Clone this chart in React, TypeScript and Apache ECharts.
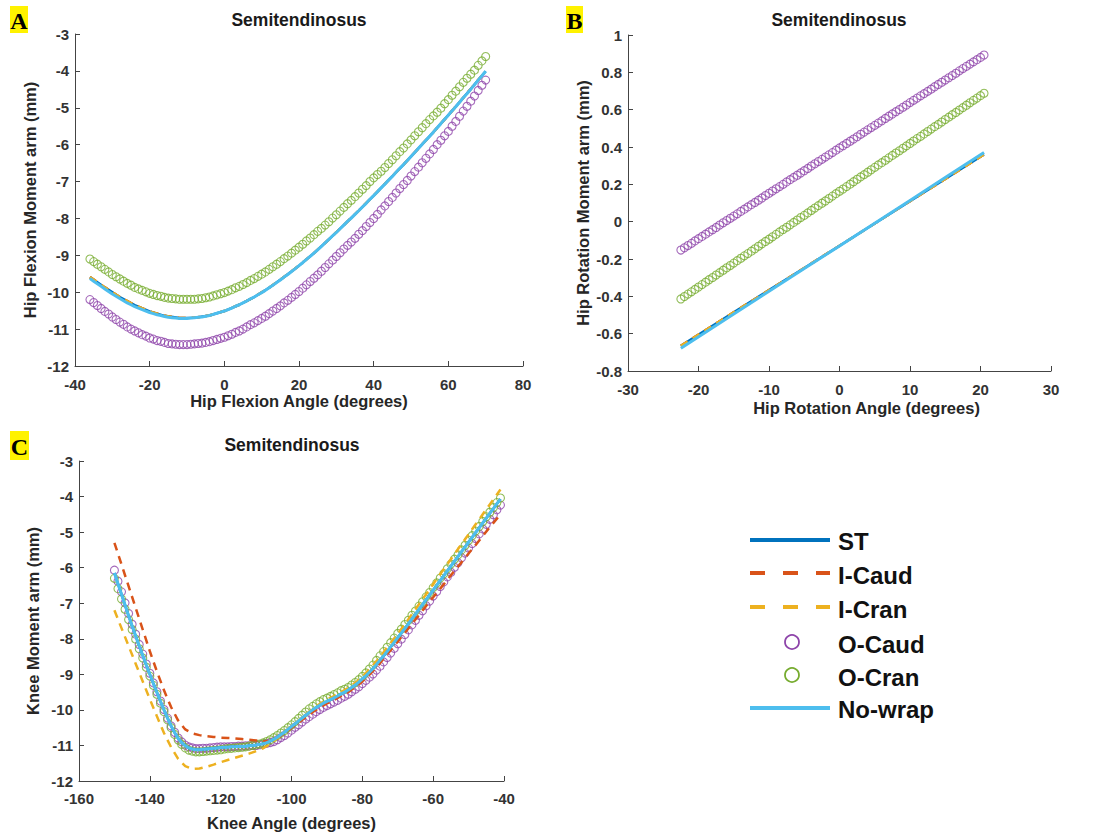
import React, { useEffect, useRef } from "react";
import * as echarts from "echarts";

// ---------- Panel A: hip flexion ----------
const hipFlexAngle = [
  -36, -35, -34, -33, -32, -31, -30, -29, -28, -27,
  -26, -25, -24, -23, -22, -21, -20, -19, -18, -17,
  -16, -15, -14, -13, -12, -11, -10, -9, -8, -7,
  -6, -5, -4, -3, -2, -1, 0, 1, 2, 3,
  4, 5, 6, 7, 8, 9, 10, 11, 12, 13,
  14, 15, 16, 17, 18, 19, 20, 21, 22, 23,
  24, 25, 26, 27, 28, 29, 30, 31, 32, 33,
  34, 35, 36, 37, 38, 39, 40, 41, 42, 43,
  44, 45, 46, 47, 48, 49, 50, 51, 52, 53,
  54, 55, 56, 57, 58, 59, 60, 61, 62, 63,
  64, 65, 66, 67, 68, 69, 70,
];
const hipFlexNoWrap = [
  -9.63, -9.7, -9.77, -9.84, -9.91, -9.98, -10.05, -10.11, -10.17, -10.23,
  -10.29, -10.34, -10.39, -10.43, -10.47, -10.51, -10.55, -10.58, -10.61, -10.63,
  -10.66, -10.68, -10.69, -10.7, -10.71, -10.71, -10.71, -10.7, -10.69, -10.68,
  -10.67, -10.65, -10.63, -10.6, -10.57, -10.54, -10.51, -10.47, -10.43, -10.38,
  -10.34, -10.29, -10.24, -10.18, -10.13, -10.07, -10.01, -9.95, -9.88, -9.81,
  -9.74, -9.67, -9.59, -9.52, -9.44, -9.36, -9.28, -9.2, -9.11, -9.03,
  -8.94, -8.85, -8.76, -8.66, -8.57, -8.47, -8.38, -8.28, -8.18, -8.08,
  -7.99, -7.89, -7.79, -7.69, -7.59, -7.48, -7.38, -7.28, -7.17, -7.07,
  -6.96, -6.86, -6.75, -6.64, -6.54, -6.43, -6.32, -6.21, -6.1, -5.99,
  -5.88, -5.77, -5.66, -5.54, -5.43, -5.31, -5.2, -5.08, -4.97, -4.85,
  -4.73, -4.62, -4.5, -4.38, -4.25, -4.13, -4.01,
];
const hipFlexOCaud = [
  -10.2, -10.28, -10.36, -10.44, -10.52, -10.59, -10.67, -10.74, -10.81, -10.87,
  -10.94, -11.0, -11.05, -11.1, -11.15, -11.19, -11.24, -11.27, -11.31, -11.33,
  -11.36, -11.39, -11.4, -11.41, -11.42, -11.42, -11.42, -11.41, -11.4, -11.39,
  -11.38, -11.36, -11.34, -11.31, -11.28, -11.25, -11.22, -11.18, -11.14, -11.09,
  -11.05, -11.0, -10.94, -10.88, -10.83, -10.77, -10.71, -10.65, -10.58, -10.51,
  -10.44, -10.37, -10.29, -10.22, -10.14, -10.06, -9.98, -9.89, -9.8, -9.71,
  -9.62, -9.53, -9.43, -9.33, -9.23, -9.13, -9.03, -8.93, -8.83, -8.73,
  -8.64, -8.54, -8.43, -8.33, -8.22, -8.11, -8.0, -7.89, -7.77, -7.66,
  -7.54, -7.43, -7.31, -7.19, -7.08, -6.97, -6.85, -6.73, -6.61, -6.49,
  -6.37, -6.25, -6.13, -6.0, -5.88, -5.76, -5.64, -5.5, -5.37, -5.23,
  -5.09, -4.96, -4.82, -4.68, -4.53, -4.39, -4.25,
];
const hipFlexOCran = [
  -9.1, -9.17, -9.24, -9.31, -9.38, -9.45, -9.52, -9.58, -9.64, -9.7,
  -9.76, -9.81, -9.87, -9.91, -9.95, -9.99, -10.03, -10.06, -10.09, -10.11,
  -10.14, -10.16, -10.17, -10.18, -10.19, -10.19, -10.19, -10.19, -10.19, -10.18,
  -10.17, -10.15, -10.13, -10.1, -10.07, -10.04, -10.01, -9.97, -9.93, -9.88,
  -9.84, -9.79, -9.74, -9.68, -9.63, -9.57, -9.51, -9.45, -9.38, -9.31,
  -9.24, -9.17, -9.09, -9.02, -8.94, -8.86, -8.78, -8.7, -8.61, -8.53,
  -8.44, -8.35, -8.27, -8.18, -8.09, -7.99, -7.9, -7.8, -7.7, -7.6,
  -7.51, -7.41, -7.31, -7.21, -7.11, -7.0, -6.9, -6.81, -6.72, -6.62,
  -6.51, -6.41, -6.3, -6.19, -6.09, -5.98, -5.87, -5.76, -5.65, -5.54,
  -5.43, -5.32, -5.22, -5.12, -5.01, -4.89, -4.78, -4.66, -4.55, -4.43,
  -4.31, -4.2, -4.09, -3.98, -3.85, -3.73, -3.61,
];
// ST, I-Caud and I-Cran coincide in this panel
const hipFlexWrapAngle = [
  -36, -32, -28, -24, -20, -16, -12, -8, -4, 0, 4, 8, 12, 16,
  20, 24, 28, 32, 36, 40, 44, 48, 52, 56, 60, 64, 68, 70,
];
const hipFlexWrap = [
  -9.59, -9.87, -10.13, -10.35, -10.52, -10.64, -10.7, -10.69, -10.63, -10.51, -10.34, -10.13, -9.88, -9.59,
  -9.28, -8.94, -8.57, -8.18, -7.79, -7.38, -6.96, -6.54, -6.1, -5.66, -5.2, -4.73, -4.25, -4.01,
];

// ---------- Panel B: hip rotation ----------
const hipRotAngle = [
  -22.5, -22, -21.5, -21, -20.5, -20, -19.5, -19, -18.5, -18,
  -17.5, -17, -16.5, -16, -15.5, -15, -14.5, -14, -13.5, -13,
  -12.5, -12, -11.5, -11, -10.5, -10, -9.5, -9, -8.5, -8,
  -7.5, -7, -6.5, -6, -5.5, -5, -4.5, -4, -3.5, -3,
  -2.5, -2, -1.5, -1, -0.5, 0, 0.5, 1, 1.5, 2,
  2.5, 3, 3.5, 4, 4.5, 5, 5.5, 6, 6.5, 7,
  7.5, 8, 8.5, 9, 9.5, 10, 10.5, 11, 11.5, 12,
  12.5, 13, 13.5, 14, 14.5, 15, 15.5, 16, 16.5, 17,
  17.5, 18, 18.5, 19, 19.5, 20, 20.5,
];
const hipRotOCaud = [
  -0.152, -0.14, -0.128, -0.116, -0.103, -0.091, -0.079, -0.067, -0.055, -0.043,
  -0.031, -0.018, -0.006, 0.006, 0.018, 0.03, 0.042, 0.055, 0.067, 0.079,
  0.091, 0.103, 0.115, 0.127, 0.14, 0.152, 0.164, 0.176, 0.188, 0.2,
  0.213, 0.225, 0.237, 0.249, 0.261, 0.273, 0.285, 0.298, 0.31, 0.322,
  0.334, 0.346, 0.358, 0.37, 0.383, 0.395, 0.407, 0.419, 0.431, 0.443,
  0.455, 0.468, 0.48, 0.492, 0.504, 0.516, 0.528, 0.54, 0.553, 0.565,
  0.577, 0.589, 0.601, 0.613, 0.625, 0.638, 0.65, 0.662, 0.674, 0.686,
  0.698, 0.71, 0.723, 0.735, 0.747, 0.759, 0.771, 0.783, 0.795, 0.808,
  0.82, 0.832, 0.844, 0.856, 0.868, 0.88, 0.893,
];
const hipRotOCran = [
  -0.414, -0.401, -0.388, -0.376, -0.363, -0.35, -0.337, -0.324, -0.311, -0.299,
  -0.286, -0.273, -0.26, -0.247, -0.235, -0.222, -0.209, -0.196, -0.183, -0.171,
  -0.158, -0.145, -0.132, -0.119, -0.106, -0.094, -0.081, -0.068, -0.055, -0.042,
  -0.03, -0.017, -0.004, 0.009, 0.022, 0.034, 0.047, 0.06, 0.073, 0.086,
  0.099, 0.111, 0.124, 0.137, 0.15, 0.163, 0.175, 0.188, 0.201, 0.214,
  0.227, 0.24, 0.252, 0.265, 0.278, 0.291, 0.304, 0.316, 0.329, 0.342,
  0.355, 0.368, 0.38, 0.393, 0.406, 0.419, 0.432, 0.445, 0.457, 0.47,
  0.483, 0.496, 0.509, 0.521, 0.534, 0.547, 0.56, 0.573, 0.585, 0.598,
  0.611, 0.624, 0.637, 0.65, 0.662, 0.675, 0.688,
];
const hipRotLineAngle = [-22.5, -15, -10, -5, 0, 5, 10, 15, 20.5];
const hipRotNoWrap = [-0.678, -0.495, -0.373, -0.251, -0.13, -0.008, 0.114, 0.236, 0.37];
const hipRotWrap = [-0.665, -0.486, -0.367, -0.248, -0.129, -0.01, 0.11, 0.229, 0.36];

// ---------- Panel C: knee ----------
const kneeAngle = [
  -150, -149, -148, -147, -146, -145, -144, -143, -142, -141,
  -140, -139, -138, -137, -136, -135, -134, -133, -132, -131,
  -130, -129, -128, -127, -126, -125, -124, -123, -122, -121,
  -120, -119, -118, -117, -116, -115, -114, -113, -112, -111,
  -110, -109, -108, -107, -106, -105, -104, -103, -102, -101,
  -100, -99, -98, -97, -96, -95, -94, -93, -92, -91,
  -90, -89, -88, -87, -86, -85, -84, -83, -82, -81,
  -80, -79, -78, -77, -76, -75, -74, -73, -72, -71,
  -70, -69, -68, -67, -66, -65, -64, -63, -62, -61,
  -60, -59, -58, -57, -56, -55, -54, -53, -52, -51,
  -50, -49, -48, -47, -46, -45, -44, -43, -42, -41,
];
const kneeNoWrap = [
  -6.15, -6.45, -6.75, -7.05, -7.35, -7.64, -7.92, -8.2, -8.47, -8.74,
  -9.0, -9.26, -9.51, -9.76, -10.0, -10.23, -10.45, -10.64, -10.8, -10.92,
  -11.01, -11.07, -11.1, -11.12, -11.12, -11.11, -11.1, -11.09, -11.08, -11.07,
  -11.06, -11.05, -11.05, -11.04, -11.04, -11.03, -11.03, -11.02, -11.01, -11.0,
  -10.99, -10.97, -10.95, -10.92, -10.88, -10.83, -10.77, -10.7, -10.63, -10.55,
  -10.47, -10.39, -10.31, -10.23, -10.15, -10.07, -10.0, -9.93, -9.87, -9.81,
  -9.76, -9.71, -9.66, -9.61, -9.55, -9.5, -9.44, -9.37, -9.3, -9.22,
  -9.13, -9.04, -8.94, -8.84, -8.72, -8.6, -8.48, -8.36, -8.23, -8.1,
  -7.97, -7.84, -7.71, -7.58, -7.44, -7.31, -7.17, -7.04, -6.9, -6.77,
  -6.63, -6.5, -6.36, -6.23, -6.09, -5.96, -5.82, -5.69, -5.55, -5.42,
  -5.28, -5.15, -5.01, -4.88, -4.74, -4.61, -4.47, -4.34, -4.2, -4.07,
];
const kneeOCaud = [
  -6.07, -6.38, -6.68, -6.99, -7.29, -7.59, -7.87, -8.16, -8.43, -8.71,
  -8.97, -9.24, -9.49, -9.75, -9.99, -10.23, -10.45, -10.63, -10.79, -10.9,
  -10.99, -11.04, -11.07, -11.09, -11.09, -11.08, -11.08, -11.07, -11.06, -11.05,
  -11.04, -11.04, -11.04, -11.03, -11.03, -11.02, -11.02, -11.01, -11.01, -11.0,
  -11.0, -10.98, -10.96, -10.94, -10.92, -10.89, -10.84, -10.78, -10.72, -10.65,
  -10.57, -10.49, -10.42, -10.34, -10.26, -10.19, -10.12, -10.05, -9.99, -9.93,
  -9.88, -9.83, -9.78, -9.73, -9.67, -9.62, -9.56, -9.49, -9.42, -9.35,
  -9.26, -9.17, -9.08, -8.99, -8.88, -8.77, -8.65, -8.53, -8.4, -8.27,
  -8.14, -8.01, -7.88, -7.75, -7.61, -7.48, -7.34, -7.21, -7.07, -6.94,
  -6.8, -6.67, -6.53, -6.4, -6.26, -6.13, -5.99, -5.86, -5.72, -5.59,
  -5.45, -5.32, -5.18, -5.05, -4.91, -4.78, -4.64, -4.51, -4.37, -4.24,
];
const kneeOCran = [
  -6.3, -6.59, -6.88, -7.17, -7.46, -7.74, -8.01, -8.28, -8.54, -8.8,
  -9.05, -9.31, -9.56, -9.81, -10.05, -10.28, -10.5, -10.69, -10.85, -10.97,
  -11.07, -11.13, -11.16, -11.18, -11.18, -11.17, -11.16, -11.15, -11.14, -11.13,
  -11.12, -11.1, -11.09, -11.08, -11.07, -11.06, -11.05, -11.04, -11.02, -11.0,
  -10.98, -10.96, -10.93, -10.89, -10.84, -10.78, -10.72, -10.65, -10.58, -10.5,
  -10.42, -10.33, -10.24, -10.15, -10.06, -9.97, -9.9, -9.83, -9.77, -9.71,
  -9.67, -9.62, -9.57, -9.52, -9.46, -9.42, -9.37, -9.3, -9.23, -9.15,
  -9.06, -8.96, -8.85, -8.74, -8.61, -8.48, -8.36, -8.24, -8.11, -7.98,
  -7.85, -7.73, -7.6, -7.48, -7.34, -7.22, -7.08, -6.96, -6.82, -6.7,
  -6.56, -6.43, -6.29, -6.17, -6.03, -5.9, -5.76, -5.64, -5.5, -5.37,
  -5.23, -5.1, -4.97, -4.84, -4.7, -4.57, -4.44, -4.31, -4.17, -4.04,
];
const kneeDashAngle = [
  -150, -148, -146, -144, -142, -140, -138, -136, -134, -132,
  -130, -128, -126, -124, -122, -120, -118, -116, -114, -112,
  -110, -108, -106, -104, -102, -100, -98, -96, -94, -92,
  -90, -88, -86, -84, -82, -80, -78, -76, -74, -72,
  -70, -68, -66, -64, -62, -60, -58, -56, -54, -52,
  -50, -48, -46, -44, -42, -41,
];
const kneeICaud = [
  -5.3, -5.91, -6.52, -7.13, -7.74, -8.35, -8.92, -9.45, -9.92, -10.3,
  -10.55, -10.66, -10.71, -10.74, -10.76, -10.78, -10.79, -10.8, -10.82, -10.84,
  -10.86, -10.88, -10.88, -10.8, -10.66, -10.5, -10.36, -10.21, -10.06, -9.93,
  -9.82, -9.72, -9.61, -9.5, -9.36, -9.2, -9.01, -8.8, -8.56, -8.32,
  -8.08, -7.83, -7.58, -7.33, -7.08, -6.83, -6.59, -6.34, -6.09, -5.85,
  -5.6, -5.36, -5.11, -4.86, -4.62, -4.5,
];
const kneeICran = [
  -7.2, -7.7, -8.2, -8.7, -9.2, -9.7, -10.18, -10.65, -11.05, -11.38,
  -11.58, -11.66, -11.65, -11.6, -11.54, -11.47, -11.41, -11.35, -11.29, -11.23,
  -11.16, -11.08, -10.96, -10.79, -10.63, -10.46, -10.3, -10.13, -9.97, -9.83,
  -9.71, -9.61, -9.5, -9.38, -9.24, -9.07, -8.86, -8.63, -8.38, -8.12,
  -7.86, -7.59, -7.31, -7.03, -6.75, -6.46, -6.18, -5.9, -5.62, -5.34,
  -5.06, -4.78, -4.5, -4.22, -3.94, -3.8,
];

const legendNames = ["ST", "I-Caud", "I-Cran", "O-Caud", "O-Cran", "No-wrap"];

const COLOR = {
  st: "#0072BD",
  iCaud: "#D95319",
  iCran: "#EDB120",
  oCaud: "#8E45AA",
  oCran: "#77AC30",
  noWrap: "#4DBEEE",
};

const SANS = "'Liberation Sans', Arial, Helvetica, sans-serif";
const SERIF = "'Liberation Serif', 'Times New Roman', serif";

const pairs = (xs: number[], ys: number[]) => xs.map((x, i) => [x, ys[i]]);

interface PanelData {
  stX: number[]; st: number[];
  iCaudX: number[]; iCaud: number[];
  iCranX: number[]; iCran: number[];
  markX: number[]; oCaud: number[]; oCran: number[];
  noWrapX: number[]; noWrap: number[];
}

function panelSeries(idx: number, d: PanelData): any[] {
  const common = { xAxisIndex: idx, yAxisIndex: idx, silent: true };
  const line = (name: string, xs: number[], ys: number[], color: string, width: number, dashed: boolean) => ({
    ...common,
    name,
    type: "line",
    data: pairs(xs, ys),
    symbol: "none",
    showSymbol: false,
    lineStyle: { color, width, type: dashed ? [8, 6] : "solid", cap: "butt" },
  });
  const marks = (name: string, ys: number[], color: string) => ({
    ...common,
    name,
    type: "scatter",
    data: pairs(d.markX, ys),
    symbol: "circle",
    symbolSize: 8,
    itemStyle: { color: "rgba(0,0,0,0)", borderColor: color, borderWidth: 1.1 },
  });
  return [
    line(legendNames[0], d.stX, d.st, COLOR.st, 2.5, false),
    line(legendNames[1], d.iCaudX, d.iCaud, COLOR.iCaud, 2.5, true),
    line(legendNames[2], d.iCranX, d.iCran, COLOR.iCran, 2.5, true),
    marks(legendNames[3], d.oCaud, COLOR.oCaud),
    marks(legendNames[4], d.oCran, COLOR.oCran),
    line(legendNames[5], d.noWrapX, d.noWrap, COLOR.noWrap, 3, false),
  ];
}

const axisBase = {
  type: "value",
  splitLine: { show: false },
  axisLine: { show: true, onZero: false, lineStyle: { color: "#444", width: 1 } },
  axisTick: { show: true, inside: true, length: 5, lineStyle: { color: "#444", width: 1 } },
  nameLocation: "middle",
  nameMoveOverlap: false,
  nameTextStyle: { fontFamily: SANS, fontWeight: "bold", fontSize: 16.5, color: "#262626" },
};

function xAxis(gridIndex: number, min: number, max: number, interval: number, name: string, nameGap: number, margin: number, namePad?: number[]) {
  return {
    ...axisBase,
    gridIndex, min, max, interval, name, nameGap,
    nameTextStyle: { ...axisBase.nameTextStyle, padding: namePad || 0 },
    axisLabel: {
      fontFamily: SANS, fontWeight: "bold", fontSize: 15, color: "#333", margin,
      showMinLabel: true, showMaxLabel: true,
    },
  };
}

function yAxis(gridIndex: number, min: number, max: number, interval: number, name: string, nameGap: number) {
  return {
    ...axisBase,
    gridIndex, min, max, interval, name, nameGap,
    axisLabel: {
      fontFamily: SANS, fontWeight: "bold", fontSize: 15, color: "#333", margin: 6,
      showMinLabel: true, showMaxLabel: true,
    },
  };
}

function panelTag(letter: string, x: number, y: number, w: number, h: number) {
  return [
    { type: "rect", shape: { x, y, width: w, height: h }, style: { fill: "#FFF200" }, silent: true },
    {
      type: "text", x: x + w / 2, y: y + h / 2 + 1, silent: true,
      style: { text: letter, fill: "#000", font: `bold 24px ${SERIF}`, align: "center", verticalAlign: "middle" },
    },
  ];
}

function legendGraphics() {
  const rows = [540, 573, 607, 642, 675, 708];
  const textRows = [541, 575, 609, 644, 677, 709];
  const items: any[] = [];
  const lineKey = (y: number, color: string, dashed: boolean) => ({
    type: "line", silent: true,
    shape: { x1: 750, y1: y, x2: 830, y2: y },
    style: { stroke: color, lineWidth: 4, lineDash: dashed ? [15, 18] : null, lineCap: "butt" },
  });
  const circleKey = (y: number, color: string) => ({
    type: "circle", silent: true,
    shape: { cx: 792, cy: y, r: 7 },
    style: { stroke: color, lineWidth: 1.8, fill: "none" },
  });
  items.push(lineKey(rows[0], COLOR.st, false));
  items.push(lineKey(rows[1], COLOR.iCaud, true));
  items.push(lineKey(rows[2], COLOR.iCran, true));
  items.push(circleKey(rows[3], COLOR.oCaud));
  items.push(circleKey(rows[4], COLOR.oCran));
  items.push(lineKey(rows[5], COLOR.noWrap, false));
  legendNames.forEach((n, i) => {
    items.push({
      type: "text", silent: true, x: 838, y: textRows[i],
      style: { text: n, fill: "#111", font: `bold 24px ${SANS}`, verticalAlign: "middle", align: "left" },
    });
  });
  return items;
}

const titleStyle = { fontFamily: SANS, fontWeight: "bold", fontSize: 17.5, color: "#1a1a1a" };

const option: any = {
  animation: false,
  backgroundColor: "#fff",
  title: [
    { text: "Semitendinosus", left: 299, top: 11, textAlign: "center", padding: 0, textStyle: titleStyle },
    { text: "Semitendinosus", left: 839, top: 11, textAlign: "center", padding: 0, textStyle: titleStyle },
    { text: "Semitendinosus", left: 292, top: 436, textAlign: "center", padding: 0, textStyle: titleStyle },
  ],
  grid: [
    { left: 75, top: 34, width: 448, height: 332, outerBoundsMode: "none" },
    { left: 628, top: 35, width: 423, height: 336, outerBoundsMode: "none" },
    { left: 79, top: 461, width: 425, height: 320, outerBoundsMode: "none" },
  ],
  xAxis: [
    xAxis(0, -40, 80, 20, "Hip Flexion Angle (degrees)", 26, 11),
    xAxis(1, -30, 30, 10, "Hip Rotation Angle (degrees)", 28, 11, [0, 0, 0, 54]),
    xAxis(2, -160, -40, 20, "Knee Angle (degrees)", 33, 10),
  ],
  yAxis: [
    yAxis(0, -12, -3, 1, "Hip Flexion Moment arm (mm)", 37),
    yAxis(1, -0.8, 1, 0.2, "Hip Rotation Moment arm (mm)", 37),
    yAxis(2, -12, -3, 1, "Knee Moment arm (mm)", 38),
  ],
  series: [
    ...panelSeries(0, {
      stX: hipFlexWrapAngle, st: hipFlexWrap,
      iCaudX: hipFlexWrapAngle, iCaud: hipFlexWrap,
      iCranX: hipFlexWrapAngle, iCran: hipFlexWrap,
      markX: hipFlexAngle, oCaud: hipFlexOCaud, oCran: hipFlexOCran,
      noWrapX: hipFlexAngle, noWrap: hipFlexNoWrap,
    }),
    ...panelSeries(1, {
      stX: hipRotLineAngle, st: hipRotWrap,
      iCaudX: hipRotLineAngle, iCaud: hipRotWrap,
      iCranX: hipRotLineAngle, iCran: hipRotWrap,
      markX: hipRotAngle, oCaud: hipRotOCaud, oCran: hipRotOCran,
      noWrapX: hipRotLineAngle, noWrap: hipRotNoWrap,
    }),
    ...panelSeries(2, {
      stX: kneeAngle, st: kneeNoWrap,
      iCaudX: kneeDashAngle, iCaud: kneeICaud,
      iCranX: kneeDashAngle, iCran: kneeICran,
      markX: kneeAngle, oCaud: kneeOCaud, oCran: kneeOCran,
      noWrapX: kneeAngle, noWrap: kneeNoWrap,
    }),
  ],
  graphic: [
    ...panelTag("A", 10, 6, 18, 27),
    ...panelTag("B", 566, 6, 17, 27),
    ...panelTag("C", 10, 431, 19, 29),
    ...legendGraphics(),
  ],
};

export default function App() {
  const ref = useRef<HTMLDivElement>(null);
  useEffect(() => {
    if (!ref.current) return;
    const chart = echarts.init(ref.current, null, { renderer: "svg" });
    chart.setOption(option);
    return () => chart.dispose();
  }, []);
  return (
    <div
      ref={ref}
      style={{ position: "fixed", left: 0, top: 0, width: 1108, height: 832, background: "#fff" }}
    />
  );
}
